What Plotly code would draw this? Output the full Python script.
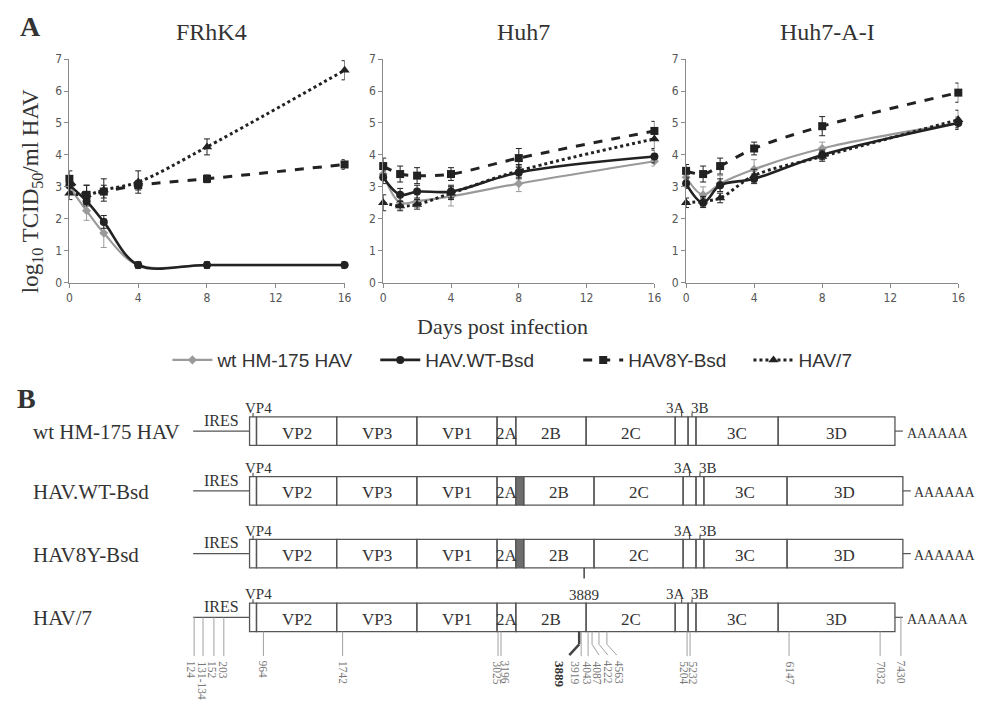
import plotly.graph_objects as go

# ---------------- Panel A data ----------------
days = [0, 1, 2, 4, 8, 16]
series_names = ["wt HM-175 HAV", "HAV.WT-Bsd", "HAV8Y-Bsd", "HAV/7"]
panel_titles = ["FRhK4", "Huh7", "Huh7-A-I"]
x_ticks = [0, 4, 8, 12, 16]

frhk4_wt = [3.0, 2.25, 1.55, 0.55, 0.55, 0.55]
frhk4_wtbsd = [3.05, 2.55, 1.9, 0.55, 0.55, 0.55]
frhk4_8y = [3.25, 2.75, 2.85, 3.05, 3.25, 3.7]
frhk4_hav7 = [2.8, 2.75, 2.9, 3.15, 4.25, 6.65]
frhk4_wt_err = [0.15, 0.3, 0.45, 0.1, 0.1, 0.1]
frhk4_wtbsd_err = [0.2, 0.15, 0.2, 0.1, 0.1, 0.1]
frhk4_8y_err = [0.25, 0.3, 0.2, 0.15, 0.12, 0.15]
frhk4_hav7_err = [0.2, 0.3, 0.35, 0.35, 0.25, 0.3]

huh7_wt = [3.4, 2.5, 2.55, 2.7, 3.1, 3.8]
huh7_wtbsd = [3.3, 2.75, 2.85, 2.85, 3.45, 3.95]
huh7_8y = [3.65, 3.4, 3.35, 3.4, 3.9, 4.75]
huh7_hav7 = [2.5, 2.4, 2.45, 2.8, 3.5, 4.5]
huh7_wt_err = [0.2, 0.2, 0.2, 0.3, 0.25, 0.15]
huh7_wtbsd_err = [0.2, 0.2, 0.2, 0.2, 0.2, 0.2]
huh7_8y_err = [0.25, 0.25, 0.25, 0.2, 0.3, 0.3]
huh7_hav7_err = [0.25, 0.15, 0.15, 0.2, 0.2, 0.3]

huh7ai_wt = [3.3, 2.75, 3.1, 3.55, 4.2, 5.0]
huh7ai_wtbsd = [3.1, 2.5, 3.05, 3.25, 4.0, 5.0]
huh7ai_8y = [3.5, 3.4, 3.65, 4.2, 4.9, 5.95]
huh7ai_hav7 = [2.5, 2.55, 2.65, 3.35, 3.95, 5.1]
huh7ai_wt_err = [0.2, 0.25, 0.25, 0.3, 0.2, 0.2]
huh7ai_wtbsd_err = [0.15, 0.15, 0.2, 0.15, 0.15, 0.15]
huh7ai_8y_err = [0.2, 0.25, 0.25, 0.2, 0.3, 0.3]
huh7ai_hav7_err = [0.15, 0.15, 0.15, 0.2, 0.15, 0.3]

# ---------------- Panel B data ----------------
row_names = ["wt HM-175 HAV", "HAV.WT-Bsd", "HAV8Y-Bsd", "HAV/7"]
row_kind = ["wt", "bsd", "bsd", "wt"]
segments_wt = ["VP4", "VP2", "VP3", "VP1", "2A", "2B", "2C", "3A", "3B", "3C", "3D"]
bounds_wt = [249, 256, 337, 418, 499, 518, 589, 679, 692, 700, 783, 901]
segments_bsd = ["VP4", "VP2", "VP3", "VP1", "2A", "Bsd", "2B", "2C", "3A", "3B", "3C", "3D"]
bounds_bsd = [249, 256, 337, 418, 499, 518, 526, 597, 687, 700, 708, 792, 909]
mut_labels = ["124", "131-134", "152", "203", "964", "1742", "3025", "3196", "3889",
              "3919", "4043", "4087", "4222", "4563", "5204", "5232", "6147", "7032", "7430"]
mut_x_top = [193, 202, 213, 223, 263, 343, 500, 503, 582, 584, 591, 595, 602, 610, 691, 694, 794, 886, 907]
mut_x_bottom = [193, 202, 213, 223, 263, 343, 500, 503, 572, 584, 591, 602, 611, 620, 691, 694, 794, 886, 907]
mut_label_x = [190, 200, 211, 222, 263, 343, 498, 507, 562, 577, 589, 600, 611, 622, 687, 696, 794, 886, 907]
mut_in_utr = [True, True, True, True, False, False, False, False, False,
              False, False, False, False, False, False, False, False, False, True]
row3_marker = "3889"
row3_marker_x = 587

# ---------------- layout constants ----------------
W, H = 987, 707
OFF = 8  # page body margin compensation
serif = "Liberation Serif, Times New Roman, serif"
narrow = "Liberation Sans Narrow, Arial Narrow, DejaVu Sans Condensed, sans-serif"
sans = "Liberation Sans, Arial, sans-serif"
px_domains = [(67, 345), (384, 658), (690, 965)]
y_dom = [1 - (281 - OFF) / H, 1 - (53 - OFF) / H]

fig = go.Figure()

panels = [
    [(frhk4_wt, frhk4_wt_err), (frhk4_wtbsd, frhk4_wtbsd_err), (frhk4_8y, frhk4_8y_err), (frhk4_hav7, frhk4_hav7_err)],
    [(huh7_wt, huh7_wt_err), (huh7_wtbsd, huh7_wtbsd_err), (huh7_8y, huh7_8y_err), (huh7_hav7, huh7_hav7_err)],
    [(huh7ai_wt, huh7ai_wt_err), (huh7ai_wtbsd, huh7ai_wtbsd_err), (huh7ai_8y, huh7ai_8y_err), (huh7ai_hav7, huh7ai_hav7_err)],
]
styles = [
    dict(color="#9a9a9a", dash="solid", width=2.2, symbol="diamond", msize=7),
    dict(color="#222222", dash="solid", width=2.6, symbol="circle", msize=8),
    dict(color="#222222", dash="dash", width=3.0, symbol="square", msize=8),
    dict(color="#222222", dash="dot", width=3.0, symbol="triangle-up", msize=9),
]
legend_ids = ["legend", "legend2", "legend3", "legend4"]
legend_x_ref = [166, 376, 581, 753]

for p, series in enumerate(panels):
    xa = "x" if p == 0 else f"x{p+1}"
    ya = "y" if p == 0 else f"y{p+1}"
    for s, (vals, errs) in enumerate(series):
        st = styles[s]
        fig.add_trace(go.Scatter(
            x=days, y=vals, xaxis=xa, yaxis=ya,
            mode="lines+markers", name=series_names[s],
            showlegend=(p == 0), legend=legend_ids[s],
            line=dict(color=st["color"], dash=st["dash"], width=st["width"], shape="spline", smoothing=1.0),
            marker=dict(symbol=st["symbol"], size=st["msize"], color=st["color"]),
            error_y=dict(type="data", array=errs, visible=True, color=st["color"], thickness=1, width=3),
            cliponaxis=False,
        ))

axis_common = dict(showline=True, linecolor="#8a8a8a", linewidth=1, ticks="outside", ticklen=4,
                   tickcolor="#8a8a8a", showgrid=False, zeroline=False,
                   tickfont=dict(family=narrow, size=12, color="#555555"))
layout = {}
for p, (a, b) in enumerate(px_domains):
    sfx = "" if p == 0 else str(p + 1)
    layout[f"xaxis{sfx}"] = dict(domain=[(a - OFF) / W, (b - OFF) / W], anchor=f"y{sfx}", range=[0, 16],
                                 tickvals=x_ticks, **axis_common)
    layout[f"yaxis{sfx}"] = dict(domain=y_dom, anchor=f"x{sfx}", range=[0, 7], dtick=1, **axis_common)
# diagram axis in reference-pixel units
layout["xaxis4"] = dict(domain=[0, 1], range=[OFF, W + OFF], visible=False, anchor="y4", fixedrange=True)
layout["yaxis4"] = dict(domain=[0, 1], range=[H + OFF, OFF], visible=False, anchor="x4", fixedrange=True)
fig.add_trace(go.Scatter(x=[], y=[], xaxis="x4", yaxis="y4", showlegend=False, hoverinfo="skip"))

for i, lid in enumerate(legend_ids):
    layout[lid] = dict(orientation="h", x=(legend_x_ref[i] - OFF) / W, y=1 - (360 - OFF) / H,
                       xanchor="left", yanchor="middle",
                       font=dict(family=sans, size=19, color="#333333"), bgcolor="rgba(0,0,0,0)",
                       itemwidth=40)

shapes = []
annots = []

def ann(x, y, text, size, family=serif, color="#333333", **kw):
    annots.append(dict(x=x, y=y, xref="x4", yref="y4", text=text, showarrow=False,
                       font=dict(family=family, size=size, color=color), **kw))

def line(x0, y0, x1, y1, color="#555555", width=1.2):
    shapes.append(dict(type="line", xref="x4", yref="y4", x0=x0, y0=y0, x1=x1, y1=y1,
                       line=dict(color=color, width=width)))

# Panel A texts
ann(28, 20, "<b>A</b>", 28)
for p, (a, b) in enumerate(px_domains):
    ann((a + b) / 2 + 5, 25, panel_titles[p], 24)
ann(30, 188, "log<sub>10</sub> TCID<sub>50</sub>/ml HAV", 23, textangle=-90)
ann(505, 326, "Days post infection", 22)

# Panel B
ann(24, 399, "<b>B</b>", 28)
row_top = [418, 479, 543, 608]
box_h = 29
for r, name in enumerate(row_names):
    top = row_top[r]
    bot = top + box_h
    mid = (top + bot) / 2
    segs = segments_wt if row_kind[r] == "wt" else segments_bsd
    bnds = bounds_wt if row_kind[r] == "wt" else bounds_bsd
    ann(28, mid + 1, name, 21, xanchor="left")
    line(192, mid, bnds[0], mid)
    ann(221, mid - 11, "IRES", 16)
    for i, seg in enumerate(segs):
        x0, x1 = bnds[i], bnds[i + 1]
        fill = "#6e6e6e" if seg == "Bsd" else "rgba(0,0,0,0)"
        shapes.append(dict(type="rect", xref="x4", yref="y4", x0=x0, x1=x1, y0=top, y1=bot,
                           line=dict(color="#555555", width=1.3), fillcolor=fill))
        c = (x0 + x1) / 2
        if seg in ("VP2", "VP3", "VP1", "2B", "2C", "3C", "3D"):
            ann(c, mid + 2, seg, 17)
        elif seg == "2A":
            ann(x0 + 10, mid + 2, seg, 17)
        elif seg == "VP4":
            ann(c + 6, top - 9, "VP4", 15)
            line(c, top - 4, c, top)
        elif seg == "3A":
            ann(c - 6, top - 9, "3A", 15)
            line(c, top - 4, c, top)
        elif seg == "3B":
            ann(c + 8, top - 9, "3B", 15)
            line(c, top - 4, c, top)
    line(bnds[-1], mid, bnds[-1] + 8, mid)
    ann(bnds[-1] + 43, mid + 2, "AAAAAA", 14)

# HAV8Y-Bsd marker
r3_bot = row_top[2] + box_h
line(row3_marker_x, r3_bot, row3_marker_x, r3_bot + 11, color="#444444", width=1.5)
ann(row3_marker_x, r3_bot + 28, row3_marker, 15)

# HAV/7 mutations
r4_top = row_top[3]
r4_bot = r4_top + box_h
r4_mid = (r4_top + r4_bot) / 2
for i, lab in enumerate(mut_labels):
    y_start = r4_mid if mut_in_utr[i] else r4_bot
    bold = lab == "3889"
    col = "#444444" if bold else "#a0a0a0"
    wdt = 2.5 if bold else 1
    xt, xb = mut_x_top[i], mut_x_bottom[i]
    if xt == xb:
        line(xt, y_start, xb, 662, color=col, width=wdt)
    else:
        line(xt, y_start, xt, 650, color=col, width=wdt)
        line(xt, 650, xb, 661, color=col, width=wdt)
    txt = f"<b>{lab}</b>" if bold else lab
    ann(mut_label_x[i], 665, txt, 13 if bold else 11.5, color="#333333" if bold else "#777777",
        textangle=90, yanchor="top", xanchor="center")

layout.update(dict(
    width=W, height=H, margin=dict(l=0, r=0, t=0, b=0),
    paper_bgcolor="white", plot_bgcolor="rgba(0,0,0,0)",
    shapes=shapes, annotations=annots,
))
fig.update_layout(**layout)
fig.write_html("out.html")
